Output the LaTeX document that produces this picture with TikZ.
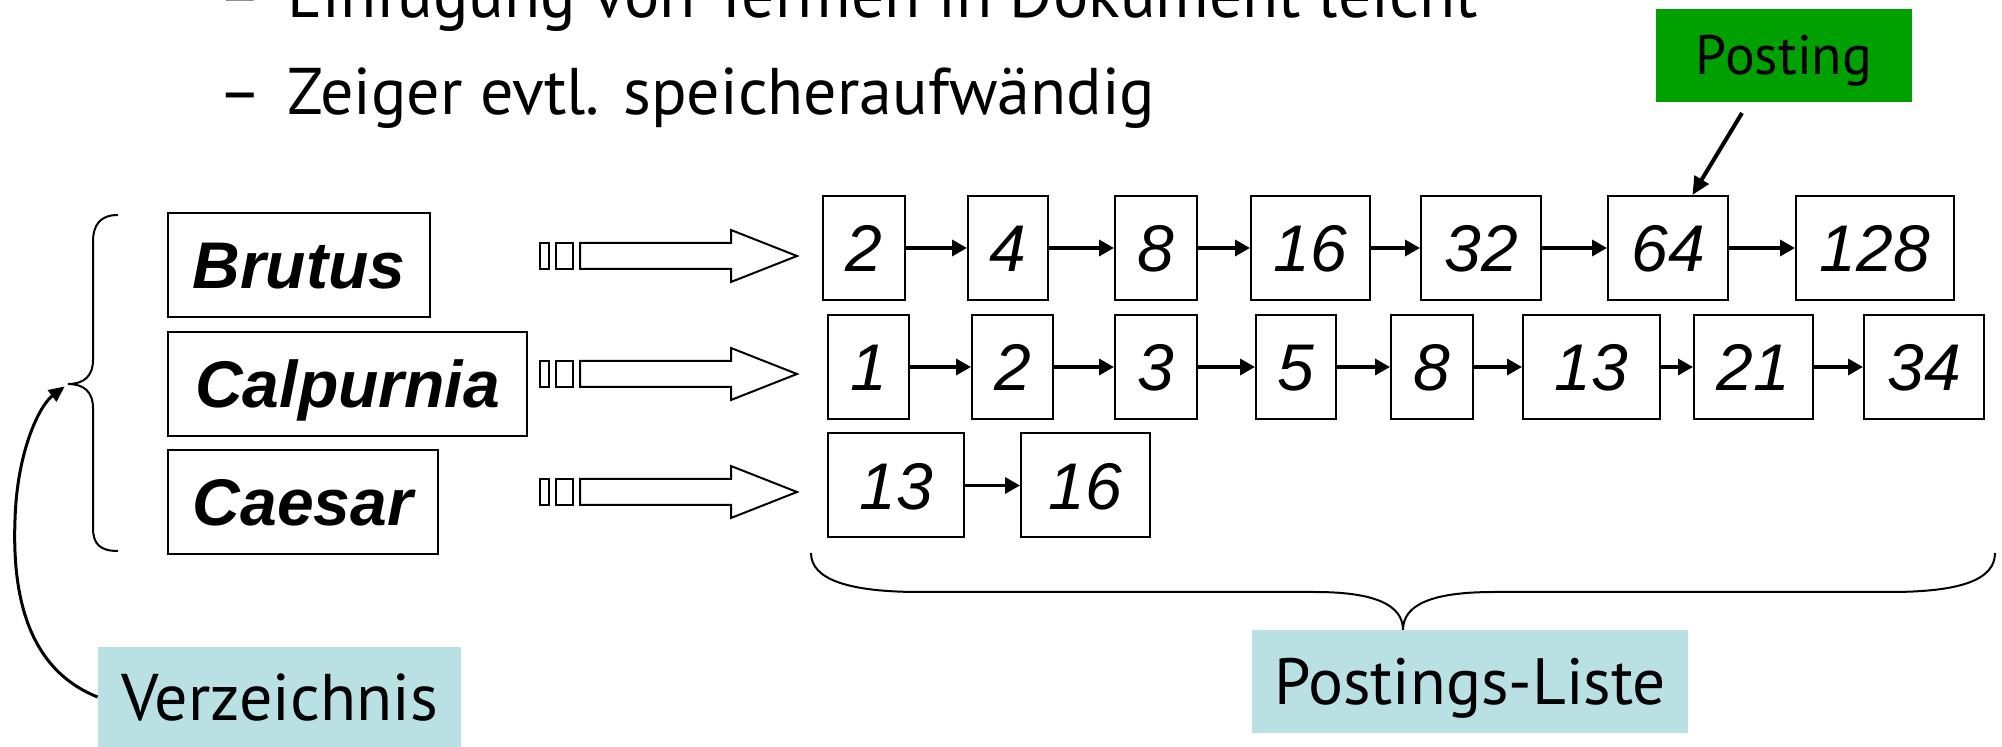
\documentclass[tikz,border=0pt]{standalone}
\usepackage{fontspec}
\setmainfont{PT Sans}
\newfontfamily\arialfont{Liberation Sans}
\usetikzlibrary{arrows.meta,calc}
\definecolor{postgreen}{RGB}{0,160,0}
\definecolor{labelteal}{RGB}{185,224,227}
\begin{document}
\begin{tikzpicture}[x=0.5pt,y=-0.5pt,
  termbox/.style={draw, line width=1pt, inner sep=0pt, minimum height=52pt,
    font=\arialfont\bfseries\itshape\fontsize{33pt}{33pt}\selectfont, text height=23.6pt, text depth=0pt},
  pbox/.style={draw, line width=1pt, inner sep=0pt, minimum height=52pt,
    font=\arialfont\itshape\fontsize{33pt}{33pt}\selectfont, text height=23.6pt, text depth=0pt},
  link/.style={line width=1.7pt, -{Triangle[length=7.5pt,width=8pt]}},
  bracepath/.style={line width=1pt},
  blockline/.style={draw, line width=1pt, fill=white},
  tealbox/.style={fill=labelteal, inner sep=0pt, text depth=0pt},
  bullet/.style={anchor=base west, inner sep=0pt, font=\fontsize{33pt}{36pt}\selectfont},
]
\useasboundingbox (0,0) rectangle (2002,747);

% bullet text
\node[bullet] (d1) at (218,18) {–};
\node[bullet] (t1) at (287,18) {Einfügung von Termen in Dokument leicht};
\node[bullet] (d2) at (218,115) {–};
\node[bullet] (t2) at (287,115) {Zeiger evtl. speicheraufwändig};

% terms
\node[termbox, minimum width=131pt] (brutus) at (299,265) {Brutus};
\node[termbox, minimum width=179.5pt] (calp) at (347.5,384) {Calpurnia};
\node[termbox, minimum width=135pt] (caesar) at (303,502) {Caesar};

% block arrows
\foreach \yc in {256,374,492} {
  \draw[blockline] (540,\yc-13) rectangle (549,\yc+13);
  \draw[blockline] (556,\yc-13) rectangle (573,\yc+13);
  \draw[blockline] (580,\yc-13) -- (731,\yc-13) -- (731,\yc-26) -- (797,\yc)
     -- (731,\yc+26) -- (731,\yc+13) -- (580,\yc+13) -- cycle;
}

% posting lists
\node[pbox, minimum width=41pt]   (a1) at (864,248) {2};
\node[pbox, minimum width=40pt]   (a2) at (1008,248) {4};
\node[pbox, minimum width=41pt]   (a3) at (1156,248) {8};
\node[pbox, minimum width=59.5pt] (a4) at (1310.5,248) {16};
\node[pbox, minimum width=60pt]   (a5) at (1481,248) {32};
\node[pbox, minimum width=60pt]   (a6) at (1668,248) {64};
\node[pbox, minimum width=79pt]   (a7) at (1875,248) {128};

\node[pbox, minimum width=40.5pt] (b1) at (868.5,367) {1};
\node[pbox, minimum width=40.5pt] (b2) at (1012.5,367) {2};
\node[pbox, minimum width=41pt]   (b3) at (1156,367) {3};
\node[pbox, minimum width=40pt]   (b4) at (1296,367) {5};
\node[pbox, minimum width=41pt]   (b5) at (1432,367) {8};
\node[pbox, minimum width=68.5pt] (b6) at (1591.5,367) {13};
\node[pbox, minimum width=59.5pt] (b7) at (1753.5,367) {21};
\node[pbox, minimum width=60pt]   (b8) at (1924,367) {34};

\node[pbox, minimum width=68pt]   (c1) at (896,485.5) {13};
\node[pbox, minimum width=64.5pt] (c2) at (1085.5,485.5) {16};

\foreach \p/\q in {a1/a2,a2/a3,a3/a4,a4/a5,a5/a6,a6/a7,
                   b1/b2,b2/b3,b3/b4,b4/b5,b5/b6,b6/b7,b7/b8,c1/c2}
  \draw[link] (\p.east) -- (\q.west);

% Posting label
\node[fill=postgreen, minimum width=128pt, minimum height=46.5pt, inner sep=0pt,
      font=\fontsize{27.8pt}{30pt}\selectfont, text height=19.5pt, text depth=0pt]
      (posting) at (1784,55.5) {Posting};
\coordinate (pstart) at (1742,113);
\draw[line width=2pt, -{Triangle[length=9pt,width=8pt]}] (pstart) -- ($(a6.north west)!0.7!(a6.north east)$);

% left brace
\coordinate (ltip) at (68,384);
\draw[bracepath] (118,215) .. controls (100,215) and (93,225) .. (93,242) -- (93,360)
  .. controls (93,376) and (84,384) .. (ltip)
  .. controls (84,384) and (93,392) .. (93,408) -- (93,528)
  .. controls (93,544) and (100,551) .. (118,551);

% bottom brace
\coordinate (btip) at (1403,630);
\draw[bracepath] (811,553) .. controls (811,580) and (850,592) .. (920,592) -- (1315,592)
  .. controls (1375,592) and (1403,605) .. (btip)
  .. controls (1403,605) and (1431,592) .. (1494,592) -- (1890,592)
  .. controls (1960,592) and (1995,580) .. (1995,553);

% teal labels
\node[tealbox, minimum width=181.5pt, minimum height=50pt,
      font=\fontsize{33pt}{35pt}\selectfont, text height=23pt] (verz) at (279.5,697) {Verzeichnis};
\node[tealbox, minimum width=218pt, minimum height=51.5pt,
      font=\fontsize{32.7pt}{35pt}\selectfont, text height=23pt] (pliste) at (1470,681.5) {Postings-Liste};

\draw[line width=1.5pt, -{Triangle[length=8pt,width=7pt]}, shorten >=2pt]
  (verz.west) .. controls (30,670) and (12,600) .. (15,520)
  .. controls (17,450) and (40,405) .. (ltip);
\end{tikzpicture}
\end{document}
